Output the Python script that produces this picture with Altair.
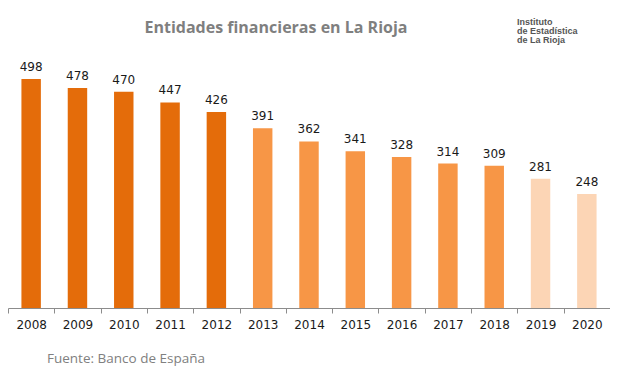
import altair as alt
import pandas as pd

years = ["2008", "2009", "2010", "2011", "2012", "2013", "2014",
         "2015", "2016", "2017", "2018", "2019", "2020"]
values = [498, 478, 470, 447, 426, 391, 362, 341, 328, 314, 309, 281, 248]
groups = ["A"] * 5 + ["B"] * 6 + ["C"] * 2
group_colors = ["#E46C0A", "#F79646", "#FCD5B5"]
title_text = "Entidades financieras en La Rioja"
source_text = "Fuente: Banco de España"
logo_lines = ["Instituto", "de Estadística", "de La Rioja"]

df = pd.DataFrame({"year": years, "value": values, "group": groups})

base = alt.Chart(df).encode(
    x=alt.X(
        "year:O",
        sort=None,
        scale=alt.Scale(paddingInner=0, paddingOuter=0),
        axis=alt.Axis(
            title=None,
            labelAngle=0,
            tickBand="extent",
            tickSize=5,
            tickColor="#8c8c8c",
            domainColor="#8c8c8c",
            labelFont="DejaVu Sans",
            labelFontSize=12,
            labelColor="#1a1a1a",
            labelPadding=6,
        ),
    )
)

bars = base.mark_bar(width=alt.RelativeBandSize(0.42)).encode(
    y=alt.Y("value:Q", scale=alt.Scale(domain=[0, 540]), axis=None),
    color=alt.Color("group:N", scale=alt.Scale(domain=["A", "B", "C"], range=group_colors), legend=None),
)

labels = base.mark_text(
    dy=-5, baseline="bottom", font="DejaVu Sans", fontSize=12, color="#1a1a1a"
).encode(y=alt.Y("value:Q"), text=alt.Text("value:Q"))

title = alt.Chart(pd.DataFrame({"t": [title_text]})).mark_text(
    align="center", baseline="middle", font="Open Sans", fontSize=16,
    fontWeight="bold", color="#7f7f7f"
).encode(x=alt.value(268), y=alt.value(-27), text="t:N")

footer = alt.Chart(pd.DataFrame({"t": [source_text]})).mark_text(
    align="left", baseline="middle", font="Open Sans", fontSize=13.5, color="#808080"
).encode(x=alt.value(39), y=alt.value(304), text="t:N")

logo = alt.Chart(pd.DataFrame({"t": [0]})).mark_text(
    align="left", baseline="top", font="Liberation Sans", fontSize=9,
    fontWeight="bold", color="#555555", lineHeight=9
).encode(x=alt.value(509), y=alt.value(-37), text=alt.value(logo_lines))

chart = alt.layer(bars, labels, title, footer, logo).properties(
    width=602,
    height=253,
    autosize=alt.AutoSizeParams(type="none"),
    padding={"left": 0, "top": 47, "right": 0, "bottom": 66},
).configure_view(stroke=None)

chart.save("out.html", embed_options={"renderer": "svg", "actions": False})
